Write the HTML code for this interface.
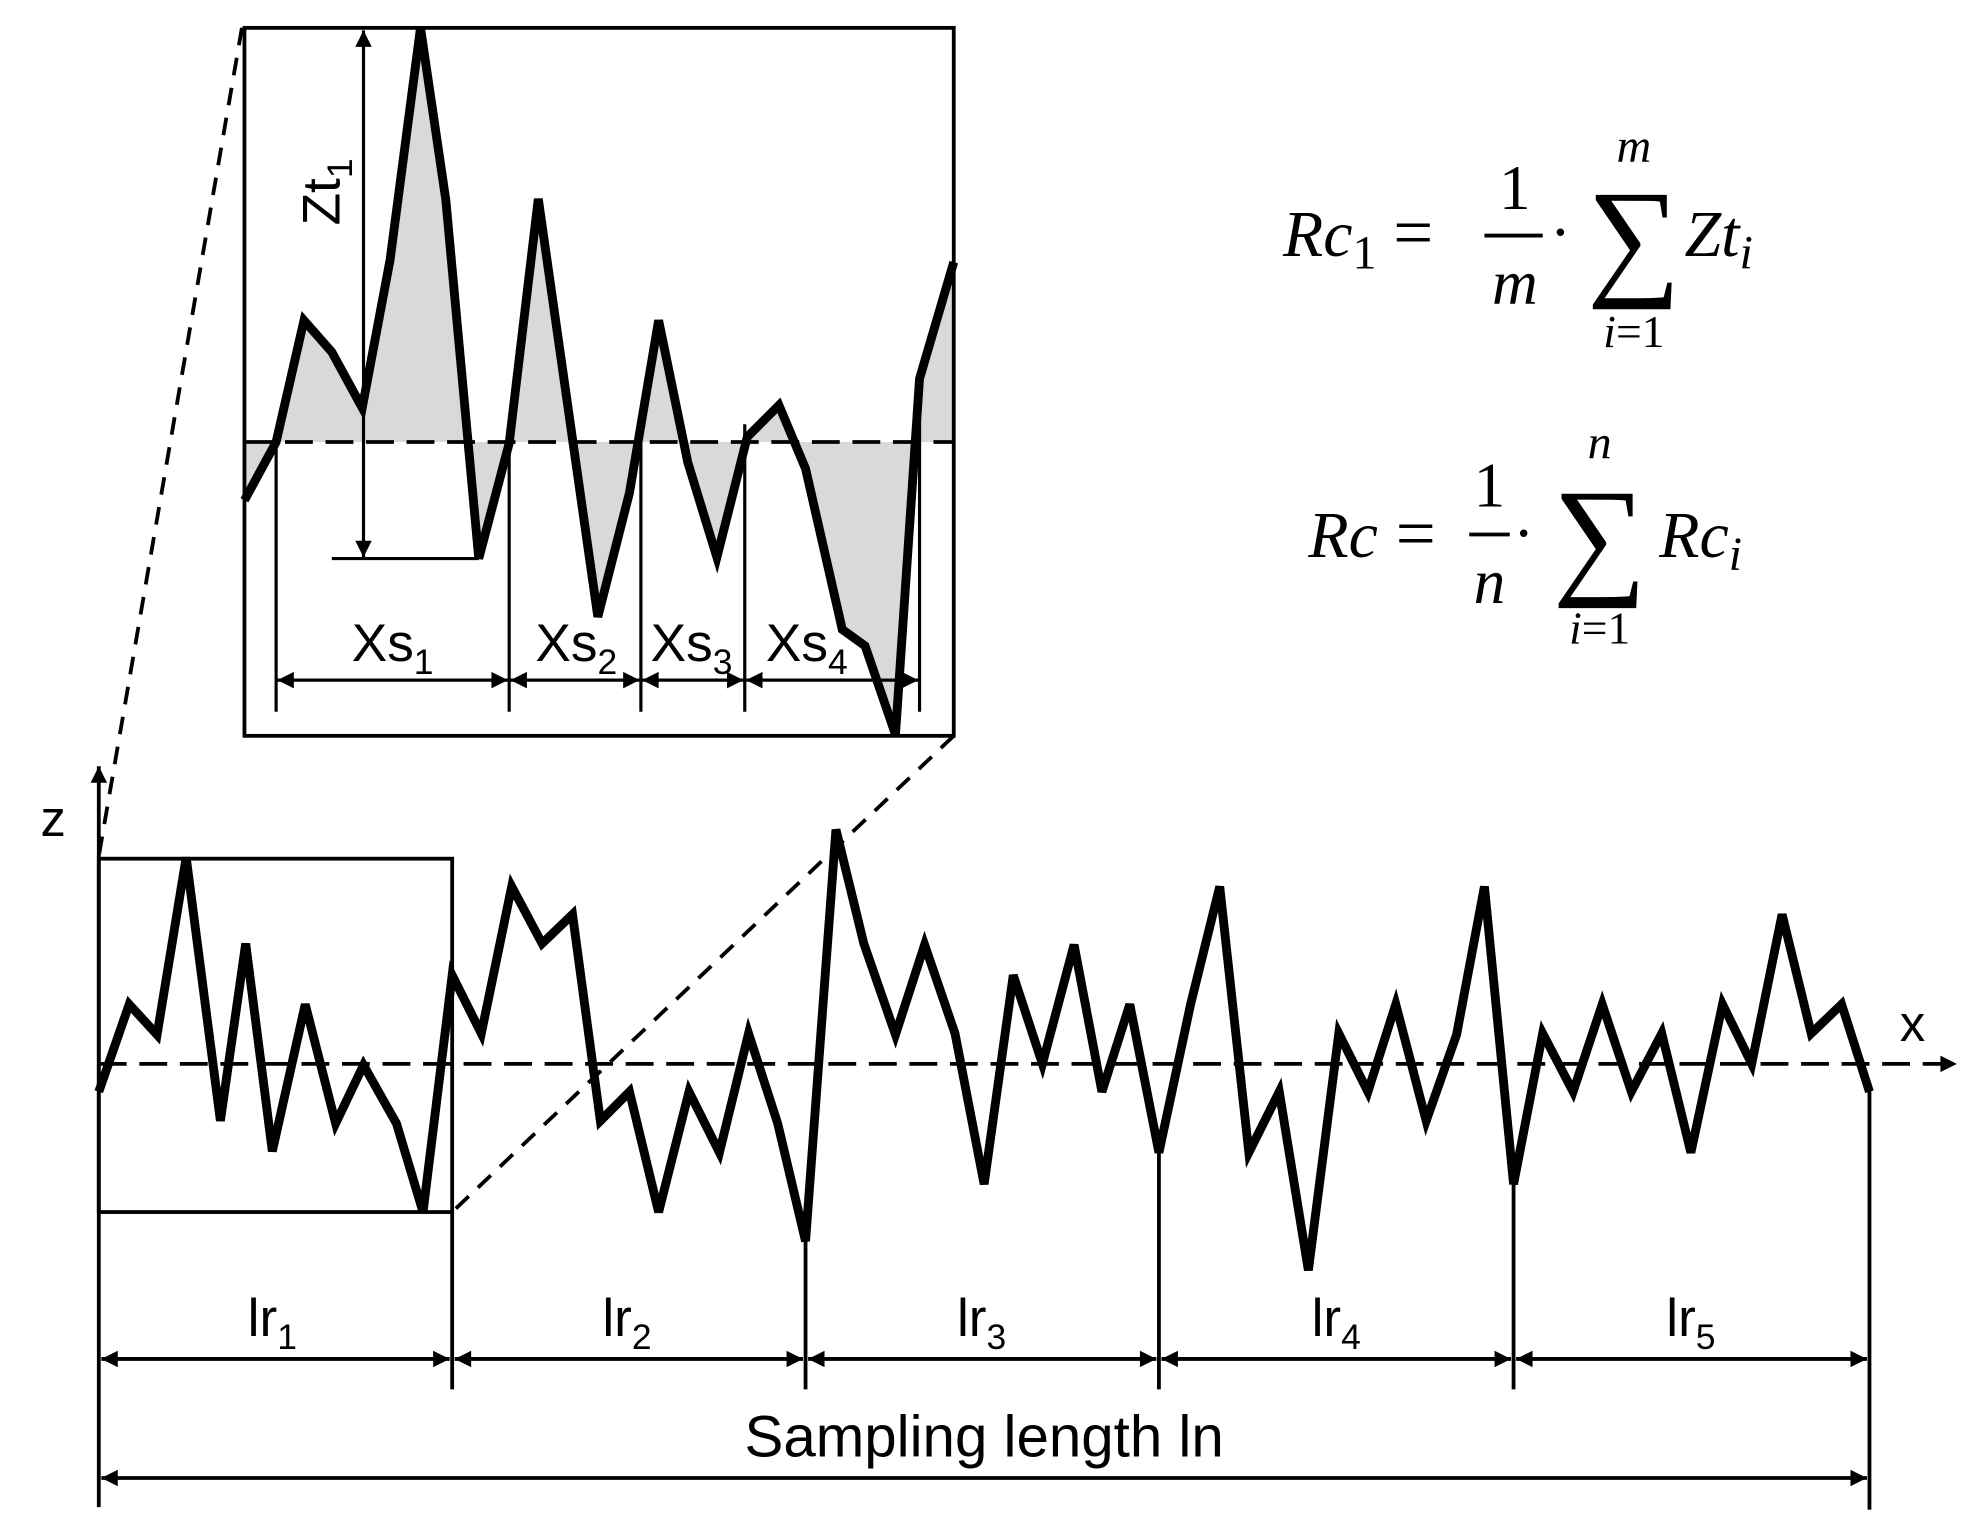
<!DOCTYPE html>
<html><head><meta charset="utf-8"><style>
html,body{margin:0;padding:0;background:#fff;}
svg{display:block;}
.t{font-family:"Liberation Sans","DejaVu Sans",sans-serif;fill:#000;}
.m{font-family:"Liberation Serif",serif;font-style:italic;fill:#000;}
.n{font-family:"Liberation Serif",serif;fill:#000;}
</style></head><body>
<svg width="1986" height="1535" viewBox="0 0 1568 1212" preserveAspectRatio="none" xmlns="http://www.w3.org/2000/svg">
<defs>
<marker id="a" viewBox="0 0 10 10" refX="10" refY="5" markerWidth="26" markerHeight="13" markerUnits="userSpaceOnUse" orient="auto-start-reverse">
<path d="M0,0 L10,5 L0,10 Z" fill="#000"/></marker>
</defs>
<path d="M193,349 L193,395 L218,349 L240,253 L262,278 L286,322 L308,205 L332,22 L352,158 L378,441 L402,350 L425,157 L472,487 L497,389 L520,253 L543,365 L566,440 L590,345 L615,320 L636,370 L665,497 L683,510 L707,580 L726,299 L753,207 L753,349 Z" fill="#d9d9d9"/>
<rect x="193" y="22" width="560" height="559" fill="none" stroke="#000" stroke-width="3"/>
<line x1="193" y1="349" x2="753" y2="349" stroke="#000" stroke-width="3" stroke-dasharray="22,10"/>
<g stroke="#000" stroke-width="2.5">
<line x1="218" y1="349" x2="218" y2="562"/><line x1="402" y1="349" x2="402" y2="562"/>
<line x1="506" y1="349" x2="506" y2="562"/><line x1="588" y1="335" x2="588" y2="562"/>
<line x1="726" y1="330" x2="726" y2="562"/>
<line x1="262" y1="441" x2="378" y2="441"/>
</g>
<g stroke="#000" stroke-width="2.5" marker-start="url(#a)" marker-end="url(#a)">
<line x1="219" y1="537" x2="401" y2="537"/><line x1="403" y1="537" x2="505" y2="537"/>
<line x1="507" y1="537" x2="587" y2="537"/><line x1="589" y1="537" x2="725" y2="537"/>
<line x1="287" y1="24" x2="287" y2="440"/>
</g>
<polyline fill="none" stroke="#000" stroke-width="7" points="193,395 218,349 240,253 262,278 286,322 308,205 332,22 352,158 378,441 402,350 425,157 472,487 497,389 520,253 543,365 566,440 590,345 615,320 636,370 665,497 683,510 707,580 726,299 753,207"/>
<text class="t" x="310" y="522" font-size="42" text-anchor="middle">Xs<tspan font-size="28" dy="10">1</tspan></text>
<text class="t" x="455" y="522" font-size="42" text-anchor="middle">Xs<tspan font-size="28" dy="10">2</tspan></text>
<text class="t" x="546" y="522" font-size="42" text-anchor="middle">Xs<tspan font-size="28" dy="10">3</tspan></text>
<text class="t" x="637" y="522" font-size="42" text-anchor="middle">Xs<tspan font-size="28" dy="10">4</tspan></text>
<text class="t" font-size="42" transform="translate(268,178) rotate(-90)">Zt<tspan font-size="28" dy="10">1</tspan></text>
<g stroke="#000" stroke-width="3" stroke-dasharray="14,10">
<line x1="191" y1="22" x2="78" y2="676"/><line x1="753" y1="581" x2="357" y2="957"/>
</g>
<line x1="78" y1="1190" x2="78" y2="605" stroke="#000" stroke-width="3" marker-end="url(#a)"/>
<line x1="78" y1="840" x2="1545" y2="840" stroke="#000" stroke-width="3" stroke-dasharray="22,10" marker-end="url(#a)"/>
<text class="t" x="42" y="660" font-size="40" text-anchor="middle">z</text>
<text class="t" x="1510" y="822" font-size="40" text-anchor="middle">x</text>
<rect x="78" y="678" width="279" height="279" fill="none" stroke="#000" stroke-width="3"/>
<g stroke="#000" stroke-width="3">
<line x1="357" y1="957" x2="357" y2="1097"/><line x1="636" y1="975" x2="636" y2="1097"/>
<line x1="915" y1="900" x2="915" y2="1097"/><line x1="1195" y1="930" x2="1195" y2="1097"/>
<line x1="1476" y1="860" x2="1476" y2="1192"/>
</g>
<g stroke="#000" stroke-width="3" marker-start="url(#a)" marker-end="url(#a)">
<line x1="80" y1="1073" x2="355" y2="1073"/><line x1="359" y1="1073" x2="634" y2="1073"/>
<line x1="638" y1="1073" x2="913" y2="1073"/><line x1="917" y1="1073" x2="1193" y2="1073"/>
<line x1="1197" y1="1073" x2="1474" y2="1073"/>
<line x1="80" y1="1167" x2="1474" y2="1167"/>
</g>
<polyline fill="none" stroke="#000" stroke-width="7" points="78,862 102,793 124,817 147,677 174,885 194,745 215,909 241,793 265,887 287,841 313,887 334,957 357,770 380,816 404,700 428,745 452,722 474,885 497,862 520,957 544,862 568,910 591,816 614,887 636,980 660,655 682,745 707,817 730,746 754,816 777,935 800,770 823,840 848,746 870,862 892,793 915,910 940,793 963,700 986,910 1010,862 1033,1003 1057,816 1080,862 1102,793 1126,885 1150,817 1172,700 1195,935 1218,816 1242,862 1265,793 1288,862 1312,816 1335,910 1360,793 1383,840 1407,722 1430,816 1454,793 1476,862"/>
<text class="t" x="215" y="1055" font-size="42" text-anchor="middle">lr<tspan font-size="28" dy="10">1</tspan></text>
<text class="t" x="495" y="1055" font-size="42" text-anchor="middle">lr<tspan font-size="28" dy="10">2</tspan></text>
<text class="t" x="775" y="1055" font-size="42" text-anchor="middle">lr<tspan font-size="28" dy="10">3</tspan></text>
<text class="t" x="1055" y="1055" font-size="42" text-anchor="middle">lr<tspan font-size="28" dy="10">4</tspan></text>
<text class="t" x="1335" y="1055" font-size="42" text-anchor="middle">lr<tspan font-size="28" dy="10">5</tspan></text>
<text class="t" x="777" y="1150" font-size="46" text-anchor="middle">Sampling length ln</text>
<text class="m" x="1013" y="202" font-size="52">Rc<tspan class="n" font-style="normal" font-size="38" dy="10">1</tspan></text>
<text class="n" x="1100" y="202" font-size="56">=</text>
<text class="n" x="1196" y="165" font-size="50" text-anchor="middle">1</text>
<line x1="1172" y1="186" x2="1218" y2="186" stroke="#000" stroke-width="3"/>
<text class="m" x="1196" y="240" font-size="50" text-anchor="middle">m</text>
<text class="n" x="1232" y="200" font-size="50" text-anchor="middle">·</text>
<text class="n" x="1290" y="222" font-size="104" text-anchor="middle">∑</text>
<text class="m" x="1290" y="128" font-size="38" text-anchor="middle">m</text>
<text class="m" x="1290" y="274" font-size="36" text-anchor="middle">i<tspan class="n" font-style="normal">=1</tspan></text>
<text class="m" x="1330" y="202" font-size="52">Zt<tspan font-size="38" dy="10">i</tspan></text>

<text class="m" x="1033" y="440" font-size="52">Rc</text>
<text class="n" x="1102" y="440" font-size="56">=</text>
<text class="n" x="1176" y="400" font-size="50" text-anchor="middle">1</text>
<line x1="1160" y1="422" x2="1192" y2="422" stroke="#000" stroke-width="3"/>
<text class="m" x="1176" y="476" font-size="50" text-anchor="middle">n</text>
<text class="n" x="1203" y="438" font-size="50" text-anchor="middle">·</text>
<text class="n" x="1263" y="458" font-size="104" text-anchor="middle">∑</text>
<text class="m" x="1263" y="362" font-size="38" text-anchor="middle">n</text>
<text class="m" x="1263" y="508" font-size="36" text-anchor="middle">i<tspan class="n" font-style="normal">=1</tspan></text>
<text class="m" x="1310" y="440" font-size="52">Rc<tspan font-size="38" dy="10">i</tspan></text>
</svg>
</body></html>
